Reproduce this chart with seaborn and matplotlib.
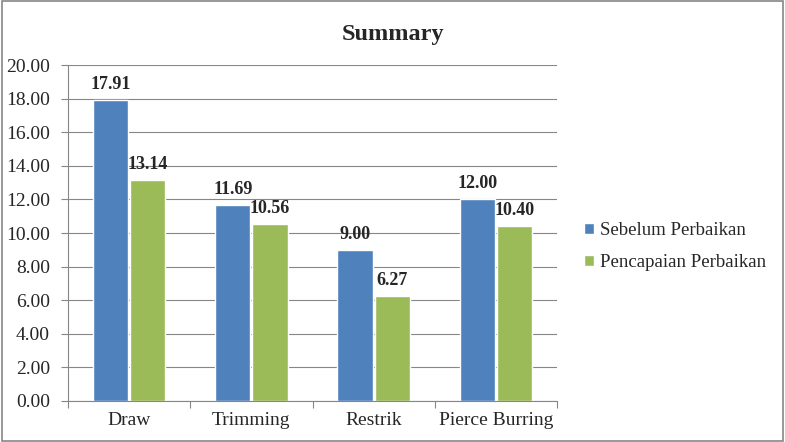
import seaborn as sns
import matplotlib.pyplot as plt
import pandas as pd

categories = ['Draw', 'Trimming', 'Restrik', 'Pierce Burring']
sebelum = [17.91, 11.69, 9.00, 12.00]
pencapaian = [13.14, 10.56, 6.27, 10.40]
series_names = ['Sebelum Perbaikan', 'Pencapaian Perbaikan']

df = pd.DataFrame({
    'Kategori': categories * 2,
    'Nilai': sebelum + pencapaian,
    'Seri': [series_names[0]] * 4 + [series_names[1]] * 4,
})

sns.set_style('white')
plt.rcParams['font.family'] = ['Liberation Serif', 'DejaVu Serif']

fig = plt.figure(figsize=(7.85, 4.42), dpi=100)
ax = fig.add_axes([0.0866, 0.0928, 0.623, 0.760])

sns.barplot(data=df, x='Kategori', y='Nilai', hue='Seri', ax=ax,
            palette=['#4F81BD', '#9BBB59'], width=0.61, gap=0.05,
            saturation=1, legend=True)

ax.set_ylim(0, 20)
ax.set_yticks([i * 2 for i in range(11)])
ax.set_yticklabels([f'{i * 2:.2f}' for i in range(11)], fontsize=14)
ax.set_xlim(-0.5, 3.5)
ax.set_xticks([-0.5, 0.5, 1.5, 2.5, 3.5], minor=False)
ax.set_xticklabels([])
ax.set_xticks([0, 1, 2, 3], minor=True)
ax.set_xticklabels(categories, minor=True, fontsize=14)
ax.tick_params(axis='x', which='major', length=5, color='#868686', direction='out', bottom=True)
ax.tick_params(axis='x', which='minor', length=0, pad=8)
ax.tick_params(axis='y', length=5, color='#868686', direction='out', left=True, pad=8)
ax.set_xlabel('')
ax.set_ylabel('')
ax.grid(axis='y', color='#868686', linewidth=0.8)
ax.set_axisbelow(True)
for side in ['top', 'right']:
    ax.spines[side].set_visible(False)
for side in ['left', 'bottom']:
    ax.spines[side].set_color('#868686')
    ax.spines[side].set_linewidth(0.8)

for cont in ax.containers:
    ax.bar_label(cont, fmt='%.2f', fontsize=13, fontweight='bold', padding=5)

fig.text(0.5, 0.922, 'Summary', ha='center', va='center', fontsize=17.5, fontweight='bold')

ax.legend(loc='center left', bbox_to_anchor=(1.02, 0.46), frameon=False, fontsize=13.5,
          handlelength=0.55, handleheight=0.55, handletextpad=0.3, labelspacing=0.8)

fig.patches.append(plt.Rectangle((0.002, 0.003), 0.996, 0.994, transform=fig.transFigure,
                                 fill=False, edgecolor='#868686', linewidth=1.2))

fig.savefig('out.png', dpi=100)
